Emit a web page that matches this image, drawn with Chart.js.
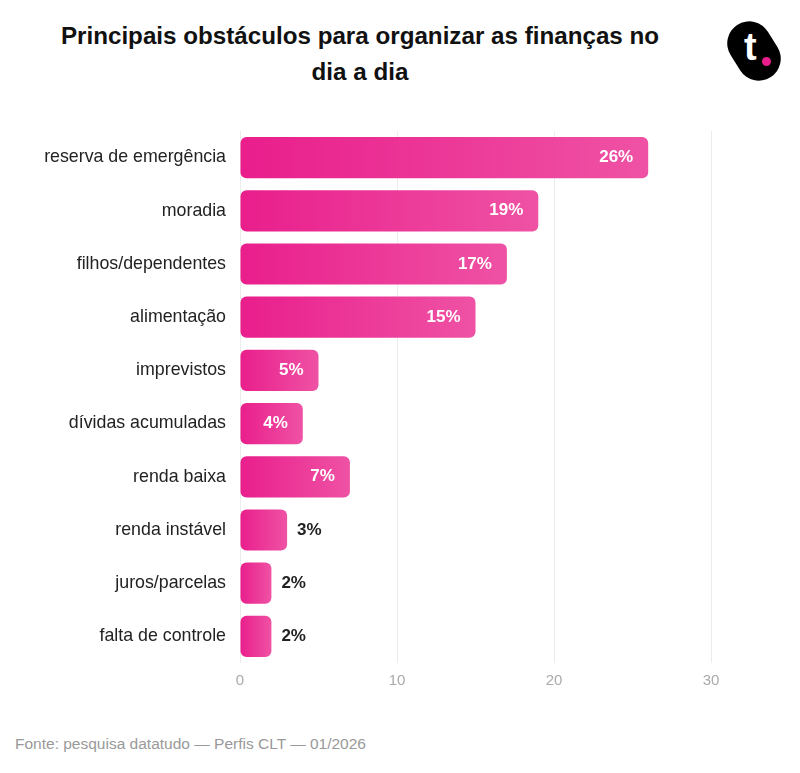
<!DOCTYPE html>
<html>
<head>
<meta charset="utf-8">
<script src="https://cdn.jsdelivr.net/npm/chart.js@4.4.1/dist/chart.umd.min.js"></script>
<style>
  body { margin: 0; background: #fff; font-family: "Liberation Sans", Arial, sans-serif; }
  #wrap { position: relative; width: 800px; height: 773px; overflow: hidden; }
  #title { position: absolute; left: 40px; top: 18px; width: 640px; text-align: center;
    font-size: 24.2px; font-weight: bold; color: #111; line-height: 36px; }
  #logo { position: absolute; left: 727px; top: 20px; width: 56px; height: 60px; }
  #logo .pill { position: absolute; left: 5px; top: 0px; width: 44px; height: 62px; background: #000;
    border-radius: 23px; transform: rotate(-32deg); }
  #logo .t { position: absolute; left: 17px; top: 6px; color: #fff; font-size: 38px; font-weight: bold; }
  #logo .dot { position: absolute; left: 35px; top: 37px; width: 9px; height: 9px; border-radius: 50%; background: #e91e8c; }
  #chartBox { position: absolute; left: 0; top: 110px; width: 800px; height: 600px; }
  #footer { position: absolute; left: 15px; top: 735px; font-size: 15.5px; color: #999; }
</style>
</head>
<body>
<div id="wrap">
  <div id="title">Principais obstáculos para organizar as finanças no<br>dia a dia</div>
  <div id="logo"><div class="pill"></div><div class="t">t</div><div class="dot"></div></div>
  <div id="chartBox"><canvas id="myChart" width="800" height="600"></canvas></div>
  <div id="footer">Fonte: pesquisa datatudo — Perfis CLT — 01/2026</div>
</div>
<script>
let categories = ['reserva de emergência', 'moradia', 'filhos/dependentes', 'alimentação', 'imprevistos',
  'dívidas acumuladas', 'renda baixa', 'renda instável', 'juros/parcelas', 'falta de controle'];
let values = [26, 19, 17, 15, 5, 4, 7, 3, 2, 2];
let xTicks = [0, 10, 20, 30];

function barGradient(context){
  const chart = context.chart;
  if (!chart.chartArea || !chart.scales.x) return '#e91e8c';
  const x0 = chart.scales.x.getPixelForValue(0);
  const x1 = chart.scales.x.getPixelForValue(values[context.dataIndex]);
  const g = chart.ctx.createLinearGradient(x0, 0, x1, 0);
  g.addColorStop(0, '#e91e8c');
  g.addColorStop(1, '#ef52a4');
  return g;
}

const valueLabels = {
  id: 'valueLabels',
  afterDatasetsDraw(chart){
    const ctx = chart.ctx;
    const meta = chart.getDatasetMeta(0);
    ctx.save();
    ctx.font = 'bold 17px "Liberation Sans", Arial, sans-serif';
    ctx.textBaseline = 'middle';
    meta.data.forEach((bar, i) => {
      const v = values[i];
      if (v >= 4) {
        ctx.fillStyle = '#fff';
        ctx.textAlign = 'right';
        ctx.fillText(v + '%', bar.x - 15, bar.y);
      } else {
        ctx.fillStyle = '#222';
        ctx.textAlign = 'left';
        ctx.fillText(v + '%', bar.x + 10, bar.y);
      }
    });
    ctx.restore();
  }
};

new Chart(document.getElementById('myChart'), {
  type: 'bar',
  data: {
    labels: categories,
    datasets: [{
      data: values,
      backgroundColor: barGradient,
      borderRadius: 6,
      borderSkipped: false,
      barPercentage: 0.86,
      categoryPercentage: 0.9
    }]
  },
  options: {
    indexAxis: 'y',
    responsive: false,
    animation: false,
    layout: { padding: { top: 21, right: 89, left: 0, bottom: 0 } },
    plugins: { legend: { display: false }, tooltip: { enabled: false } },
    scales: {
      x: {
        min: 0, max: 30,
        afterBuildTicks(scale){ scale.ticks = xTicks.map(v => ({ value: v })); },
        afterFit(scale){ scale.height = 47; },
        grid: { color: '#ececec', drawTicks: false },
        border: { display: false },
        ticks: { color: '#aaa', padding: 9, font: { size: 15, family: '"Liberation Sans", Arial, sans-serif' } }
      },
      y: {
        afterFit(scale){ scale.width = 240; },
        grid: { display: false },
        border: { display: false },
        ticks: { color: '#222', padding: 6, font: { size: 17.8, family: '"Liberation Sans", Arial, sans-serif' } }
      }
    }
  },
  plugins: [valueLabels]
});
</script>
</body>
</html>
